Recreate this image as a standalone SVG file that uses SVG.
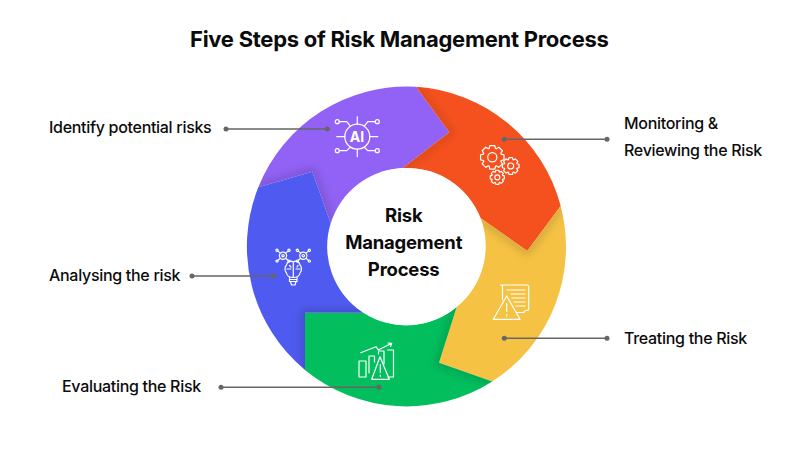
<svg xmlns="http://www.w3.org/2000/svg" xmlns:xlink="http://www.w3.org/1999/xlink" width="800" height="455" viewBox="0 0 800 455">
<style>
text{font-family:Inter,"Liberation Sans",sans-serif;fill:#0b0b0b}
.title{font-size:22px;font-weight:700;letter-spacing:-.27px}
.lab{font-size:16px;font-weight:500;letter-spacing:-.3px}
.center{font-size:18.5px;font-weight:700;text-anchor:middle;letter-spacing:-.2px}
.ic{fill:none;stroke:#fff;stroke-width:1.2;stroke-linecap:round;stroke-linejoin:round;vector-effect:non-scaling-stroke}
.conn{fill:none;stroke:#666;stroke-width:1.5}
.dot{fill:#666}
.sh{fill:none;stroke:#000;stroke-opacity:.17;stroke-width:7;filter:url(#blur)}
</style>
<defs>
<filter id="blur" x="-30%" y="-30%" width="160%" height="160%"><feGaussianBlur stdDeviation="4"/></filter>
<path id="gear" class="ic" d="M7.33-2.67 9.78-2.08 9.78 2.08 7.33 2.67 7.07 3.3 8.39 5.45 5.45 8.39 3.3 7.07 2.67 7.33 2.08 9.78-2.08 9.78-2.67 7.33-3.3 7.07-5.45 8.39-8.39 5.45-7.07 3.3-7.33 2.67-9.78 2.08-9.78-2.08-7.33-2.67-7.07-3.3-8.39-5.45-5.45-8.39-3.3-7.07-2.67-7.33-2.08-9.78 2.08-9.78 2.67-7.33 3.3-7.07 5.45-8.39 8.39-5.45 7.07-3.3Z"/>
<g id="node-ic">
<circle class="ic" r="3.6"/><circle class="ic" r="1.2"/>
<path class="ic" d="M-2.6-2.6-5-4.6M2.6-2.6 5-4.6M-2.6 2.6-5 4.6M2.6 2.6 5 4.6"/>
<circle class="ic" cx="-6" cy="-5.4" r="1.1"/><circle class="ic" cx="6" cy="-5.4" r="1.1"/><circle class="ic" cx="-6" cy="5.4" r="1.1"/><circle class="ic" cx="6" cy="5.4" r="1.1"/>
</g>
<path id="pPurple" d="M258.3 187.3A160 160 0 0 1 416 86.8L449.3 132.3 402.7 168.1A78.5 78.5 0 0 0 330.7 223.3L312.3 171.7Z"/>
<path id="pOrange" d="M416 86.8A160 160 0 0 1 560.7 206L527.3 251 480.7 218.3A78.5 78.5 0 0 0 402.7 168.1L449.3 132.3Z"/>
<path id="pYellow" d="M560.7 206A160 160 0 0 1 492.3 381.5L439 362.7 456.7 307A78.5 78.5 0 0 0 480.7 218.3L527.3 251Z"/>
<path id="pGreen" d="M492.3 381.5A160 160 0 0 1 305 370L305 312.7 363.3 312.7A78.5 78.5 0 0 0 456.7 307L439 362.7Z"/>
<path id="pBlue" d="M305 370A160 160 0 0 1 258.3 187.3L312.3 171.7 330.7 223.3A78.5 78.5 0 0 0 363.3 312.7L305 312.7Z"/>
<clipPath id="cPurple"><use xlink:href="#pPurple"/></clipPath>
<clipPath id="cOrange"><use xlink:href="#pOrange"/></clipPath>
<clipPath id="cYellow"><use xlink:href="#pYellow"/></clipPath>
<clipPath id="cGreen"><use xlink:href="#pGreen"/></clipPath>
<clipPath id="cBlue"><use xlink:href="#pBlue"/></clipPath>
</defs>
<rect width="800" height="455" fill="#fff"/>
<text class="title" x="190" y="46.5">Five Steps of Risk Management Process</text>

<g id="step-identify">
<use xlink:href="#pPurple" fill="#9162F5"/>
<g clip-path="url(#cPurple)"><path class="sh" d="M258.3 187.3 312.3 171.7 330.7 223.3"/></g>
<g transform="translate(357.3 136.7)">
<circle class="ic" r="12.5"/>
<path class="ic" d="M0-20V-12.5M0 12.5V20M-20.5 0H-12.5M12.5 0H20.5M-18-15H-10.5L-7-10.5M18-15H10.5L7-10.5M-18 14H-10.5L-7 10.5M18 14H10.5L7 10.5"/>
<circle class="ic" cx="-20" cy="-15" r="2"/><circle class="ic" cx="20" cy="-15" r="2"/><circle class="ic" cx="-20" cy="14" r="2"/><circle class="ic" cx="20" cy="14" r="2"/>
<text x="-.3" y="5" text-anchor="middle" style="font-size:14px;font-weight:700;fill:#fff">AI</text>
</g>
</g>

<g id="step-monitoring">
<use xlink:href="#pOrange" fill="#F4511E"/>
<g clip-path="url(#cOrange)"><path class="sh" d="M416 86.8 449.3 132.3 402.7 168.1" style="stroke-opacity:.12"/></g>
<use xlink:href="#gear" transform="translate(492.3 157.3) scale(1.2)"/><circle class="ic" cx="492.3" cy="157.3" r="4.6"/>
<use xlink:href="#gear" transform="translate(510.7 166) scale(.85)"/><circle class="ic" cx="510.7" cy="166" r="3"/>
<use xlink:href="#gear" transform="translate(497.3 177.3) scale(.72)"/><circle class="ic" cx="497.3" cy="177.3" r="2.5"/>
</g>

<g id="step-treating">
<use xlink:href="#pYellow" fill="#F6C244"/>
<g clip-path="url(#cYellow)"><path class="sh" d="M560.7 206 527.3 251 480.7 218.3"/></g>
<path class="ic" d="M502.5 300V287Q502.5 285 500.5 285H526.7Q528.7 285 528.7 287V309Q528.7 310.5 526 310.5Q524 310.5 524 312.5H516.5"/>
<path class="ic" d="M507 290H525M511 294H525M512 298H525M514 302H525M516 306H525"/>
<path class="ic" d="M506.7 296 493.3 319.3H520Z"/>
<path class="ic" d="M506.7 303.5V311.5M506.7 314.5V316"/>
</g>

<g id="step-evaluating">
<use xlink:href="#pGreen" fill="#02BE5D"/>
<g clip-path="url(#cGreen)"><path class="sh" d="M492.3 381.5 439 362.7 456.7 307"/></g>
<path class="ic" d="M359 361H366V377H359ZM369 356H374.5V362M369 356V373M378.5 354V351H384V364M387.7 350H393.5V377H388"/>
<path class="ic" d="M360.7 352.7 376 346.7 378.3 350 391.7 343.3M388 343 391.7 343.3 390.5 346.5"/>
<path class="ic" d="M380 356.7 371.7 379.3H389.3Z"/>
<path class="ic" d="M380.3 364.5V372.5M380.3 375V376.3"/>
</g>

<g id="step-analysing">
<use xlink:href="#pBlue" fill="#4F5BF0"/>
<g clip-path="url(#cBlue)"><path class="sh" d="M305 370 305 312.7 363.3 312.7"/></g>
<use xlink:href="#node-ic" transform="translate(283 255.7)"/>
<use xlink:href="#node-ic" transform="translate(303.3 255.7)"/>
<path class="ic" d="M293.3 262V277.5M293.3 262C290 260 287 262 286.5 265 284.5 267 284.5 271 286.5 273 287 276 289.5 277.5 293.3 277.5M293.3 262C296.5 260 299.5 262 300 265 302 267 302 271 300 273 299.5 276 297 277.5 293.3 277.5M287 269H291M296 269H300M289.5 265.5 291 267M297 267 298 265.5"/>
<path class="ic" d="M289.5 277.5V281.5H297V277.5M290.5 281.5 291.5 285H295L296 281.5M289.5 279.5H297"/>
</g>

<g id="hub">
<circle cx="406.6" cy="246.6" r="78.5" fill="#fff"/>
<text class="center" x="403.7" y="222">Risk</text>
<text class="center" x="403.7" y="249">Management</text>
<text class="center" x="403.7" y="276">Process</text>
</g>

<g id="connectors">
<path class="conn" d="M226 129H327.3M192 276H273.3M221 387.3H379M504.3 139.3H607M504.3 338.3H607"/>
<circle class="dot" cx="226" cy="129" r="2.5"/><circle class="dot" cx="327.3" cy="129" r="2.5"/>
<circle class="dot" cx="192" cy="276" r="2.5"/><circle class="dot" cx="273.3" cy="276" r="2.5"/>
<circle class="dot" cx="221" cy="387.3" r="2.5"/><circle class="dot" cx="379" cy="387.3" r="2.5"/>
<circle class="dot" cx="504.3" cy="139.3" r="2.5"/><circle class="dot" cx="607" cy="139.3" r="2.5"/>
<circle class="dot" cx="504.3" cy="338.3" r="2.5"/><circle class="dot" cx="607" cy="338.3" r="2.5"/>
</g>

<g id="labels">
<text class="lab" x="49" y="132.5">Identify potential risks</text>
<text class="lab" x="49" y="281">Analysing the risk</text>
<text class="lab" x="62" y="392">Evaluating the Risk</text>
<text class="lab" x="624" y="129">Monitoring &amp;</text>
<text class="lab" x="624" y="156">Reviewing the Risk</text>
<text class="lab" x="624" y="344">Treating the Risk</text>
</g>
</svg>
